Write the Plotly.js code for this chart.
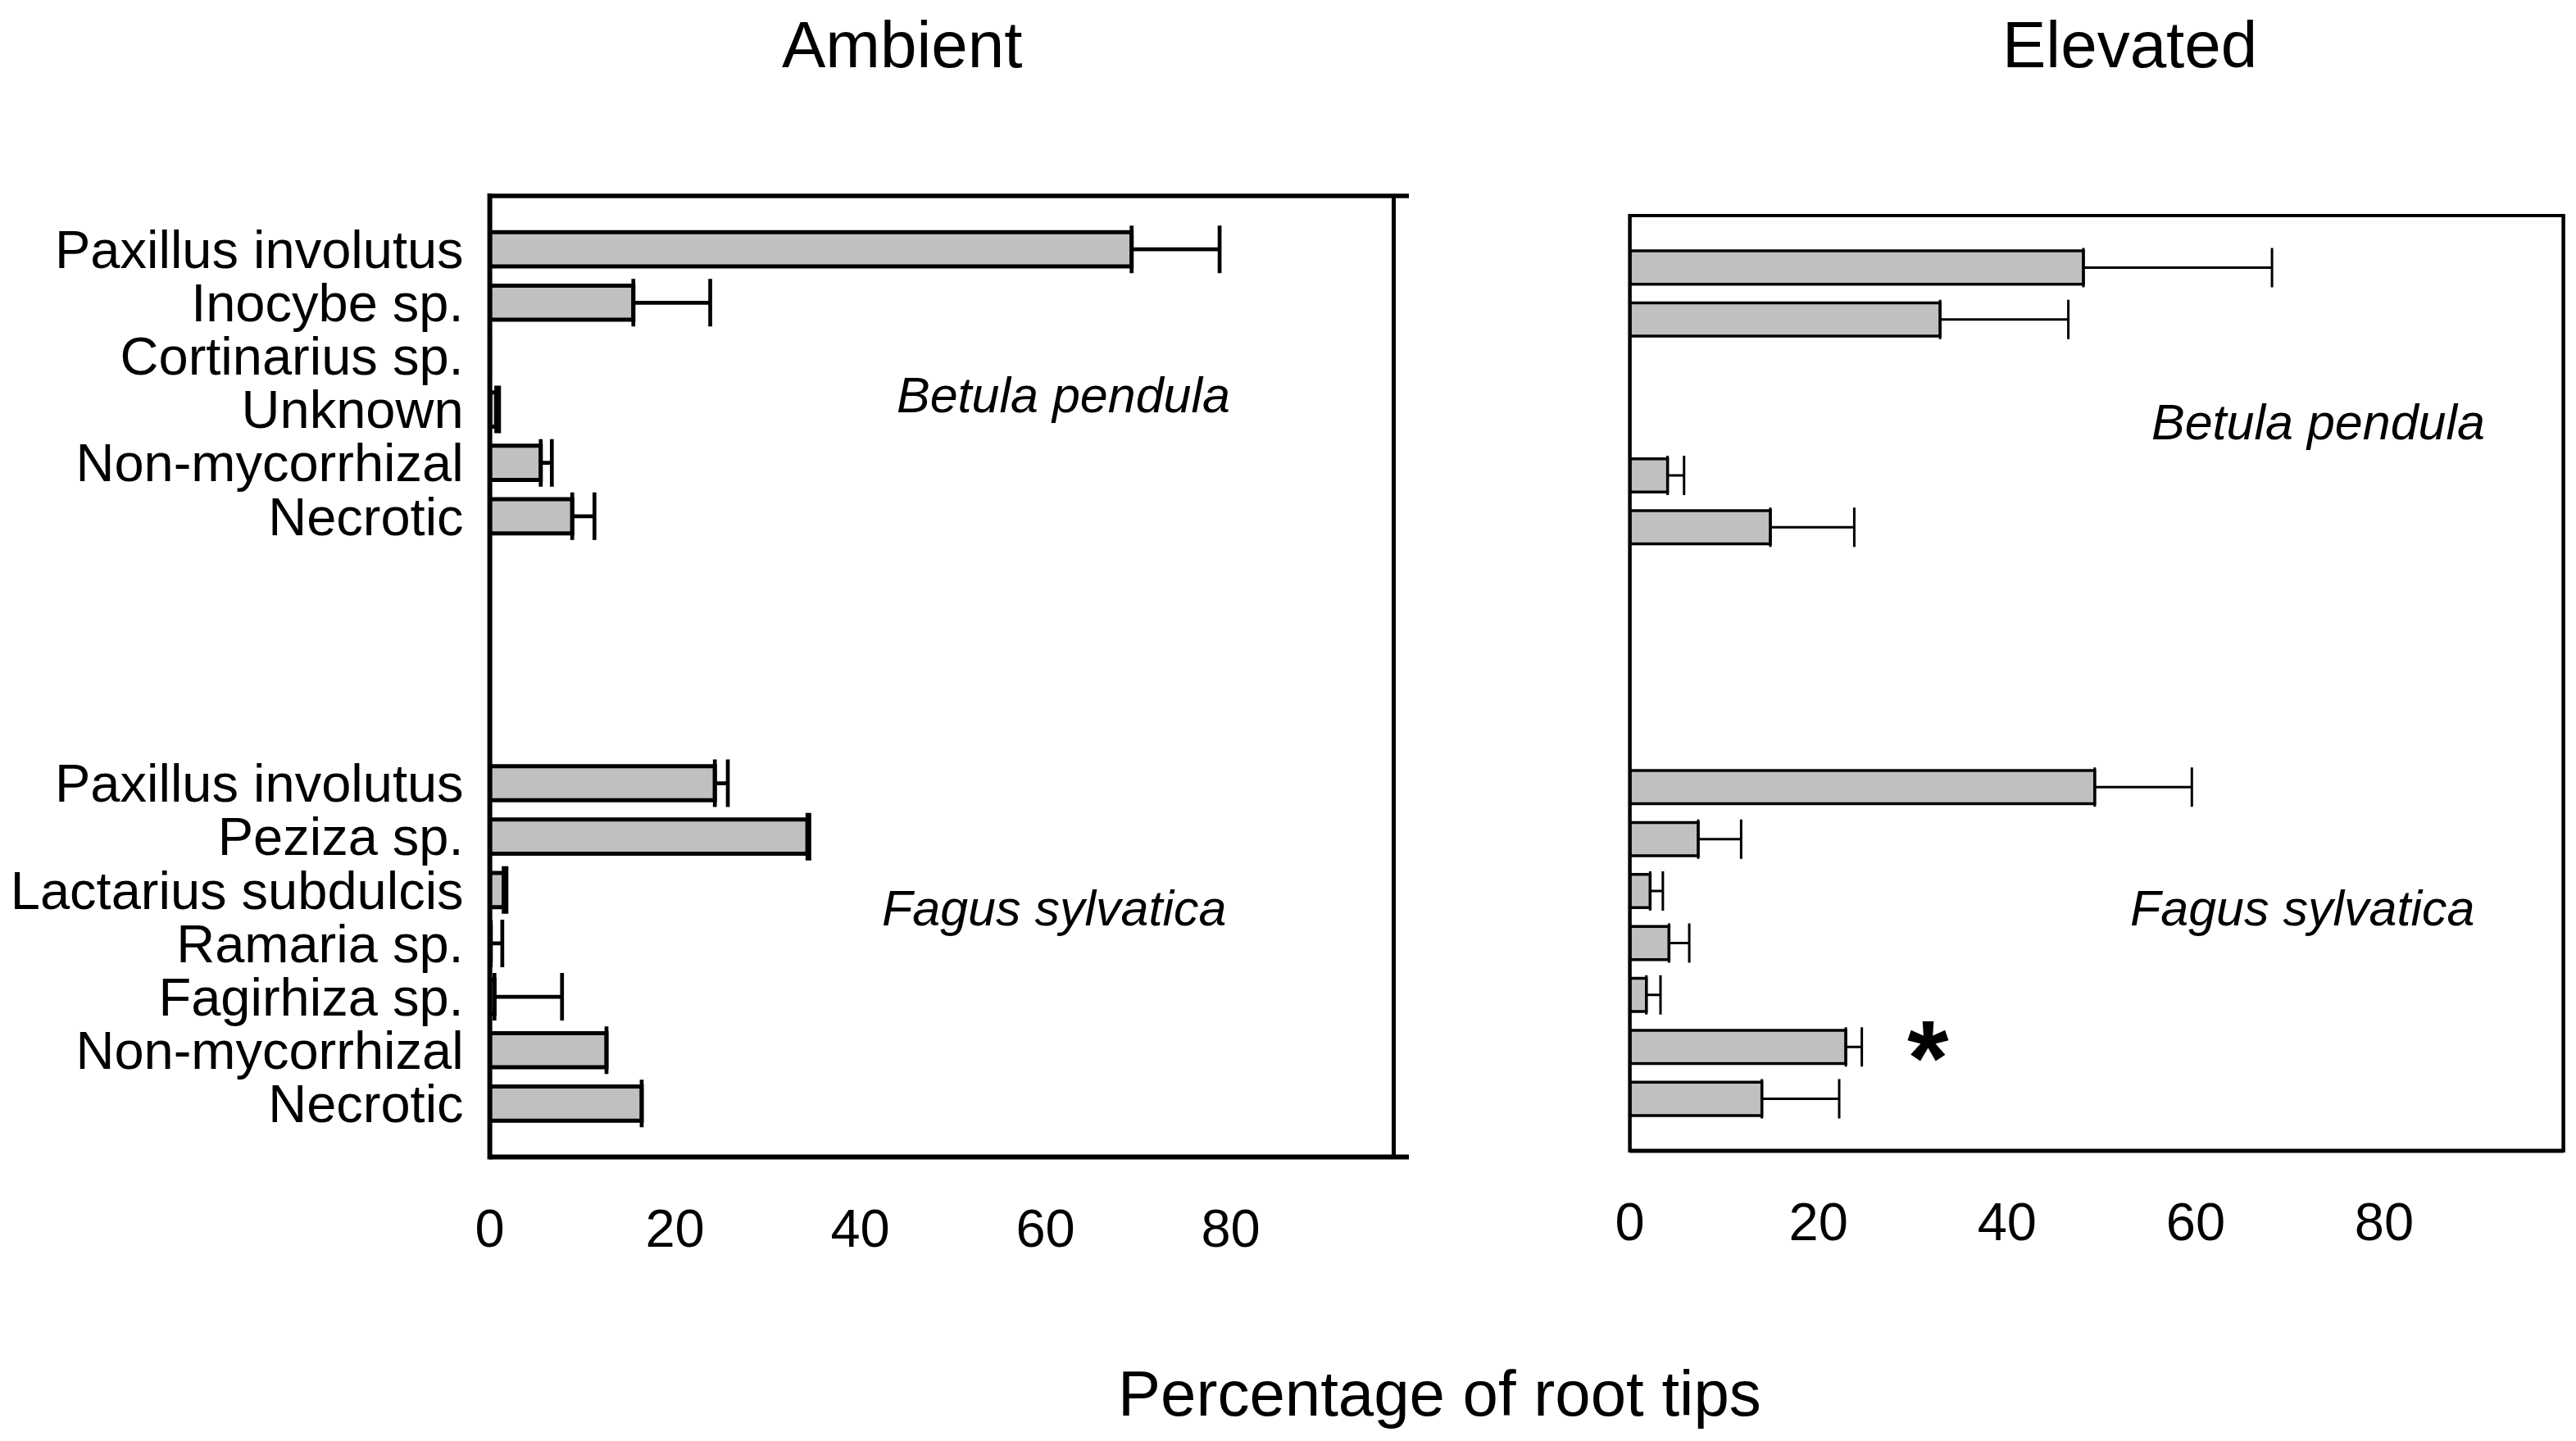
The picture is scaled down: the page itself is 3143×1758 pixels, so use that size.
<!DOCTYPE html>
<html>
<head>
<meta charset="utf-8">
<script src="https://cdn.plot.ly/plotly-3.0.1.min.js"></script>
<style>
html,body{margin:0;padding:0;background:#fff;}
#chart{width:3143px;height:1758px;}
</style>
</head>
<body>
<div id="chart"></div>
<script>
// ---------------- data ----------------
const betulaCategories = ['Paxillus involutus','Inocybe sp.','Cortinarius sp.','Unknown','Non-mycorrhizal','Necrotic'];
const fagusCategories  = ['Paxillus involutus','Peziza sp.','Lactarius subdulcis','Ramaria sp.','Fagirhiza sp.','Non-mycorrhizal','Necrotic'];

const ambientBetula     = [69.3, 15.5, 0, 0.7, 5.5, 8.9];
const ambientBetulaErr  = [9.5, 8.3, null, 0.3, 1.2, 2.4];
const ambientFagus      = [24.3, 34.3, 1.5, 0.1, 0.5, 12.6, 16.4];
const ambientFagusErr   = [1.4, 0.2, 0.3, 1.25, 7.3, null, null];

const elevatedBetula    = [48.1, 32.9, null, null, 4.0, 14.9];
const elevatedBetulaErr = [20.0, 13.6, null, null, 1.75, 8.9];
const elevatedFagus     = [49.3, 7.25, 2.15, 4.15, 1.75, 22.9, 14.0];
const elevatedFagusErr  = [10.3, 4.55, 1.35, 2.15, 1.5, 1.7, 8.2];

const xTicks = [0, 20, 40, 60, 80];
const panelTitles = ['Ambient', 'Elevated'];
const speciesLabels = ['Betula pendula', 'Fagus sylvatica'];
const xAxisTitle = 'Percentage of root tips';
const significance = {panel: 'Elevated', group: 'Fagus', category: 'Non-mycorrhizal', mark: '*'};

// ---------------- layout helpers ----------------
const W = 3143, H = 1758;
const px = x => x / W;
const py = y => 1 - y / H;
const FONT = 'Liberation Sans, Arial, Helvetica, sans-serif';
const gapSlots = 4;
const fagusStart = betulaCategories.length + gapSlots;
const betulaPos = betulaCategories.map((_, i) => i);
const fagusPos  = fagusCategories.map((_, i) => fagusStart + i);
const allPos = betulaPos.concat(fagusPos);
const allCats = betulaCategories.concat(fagusCategories);
const yRange = [fagusPos[fagusPos.length - 1] + 1, -1];

const P = {
  L: {x0: 597.6, x1: 1700.5, y0: 239, y1: 1411.5, xmax: 97.6},
  R: {x0: 1988.6, x1: 3127.6, y0: 263, y1: 1404, xmax: 99.0}
};

function barTrace(vals, errs, pos, xa, ya, lw, ew, cap) {
  return {
    type: 'bar', orientation: 'h', x: vals, y: pos, xaxis: xa, yaxis: ya,
    width: 0.64,
    marker: {color: '#c0c0c0', line: {color: '#000', width: lw}},
    error_x: {type: 'data', array: errs, visible: true, symmetric: false,
              arrayminus: errs.map(() => 0), color: '#000', thickness: ew, width: cap},
    hoverinfo: 'x+y', showlegend: false, cliponaxis: false
  };
}

const data = [
  barTrace(ambientBetula, ambientBetulaErr, betulaPos, 'x', 'y', 5, 4.7, 29),
  barTrace(ambientFagus, ambientFagusErr, fagusPos, 'x', 'y', 5, 4.7, 29),
  barTrace(elevatedBetula, elevatedBetulaErr, betulaPos, 'x2', 'y2', 3.5, 3, 24),
  barTrace(elevatedFagus, elevatedFagusErr, fagusPos, 'x2', 'y2', 3.5, 3, 24)
];

const tickFont = {family: FONT, size: 65, color: '#000'};
function xAxis(p, anchor) {
  return {
    domain: [px(p.x0), px(p.x1)], range: [0, p.xmax], anchor: anchor,
    tickvals: xTicks, ticktext: xTicks.map(String), tickfont: tickFont,
    ticks: 'outside', ticklen: 30, tickcolor: 'rgba(0,0,0,0)',
    showgrid: false, zeroline: false, showline: false, fixedrange: true
  };
}
function yAxis(p, anchor, showLabels) {
  return {
    domain: [py(p.y1), py(p.y0)], range: yRange, anchor: anchor,
    tickvals: showLabels ? allPos : [], ticktext: showLabels ? allCats : [],
    tickfont: tickFont, ticks: showLabels ? 'outside' : '', ticklen: 18,
    tickcolor: 'rgba(0,0,0,0)', showticklabels: showLabels,
    showgrid: false, zeroline: false, showline: false, fixedrange: true
  };
}

function line(x0, y0, x1, y1, w) {
  return {type: 'line', xref: 'paper', yref: 'paper', x0: px(x0), y0: py(y0), x1: px(x1), y1: py(y1),
          line: {color: '#000', width: w}, layer: 'above'};
}
const shapes = [
  // left (Ambient) frame
  line(P.L.x0, P.L.y0 - 3, P.L.x0, P.L.y1 + 3, 6),
  line(P.L.x0, P.L.y0, 1719, P.L.y0, 5.5),
  line(P.L.x1, P.L.y0, P.L.x1, P.L.y1, 5),
  line(P.L.x0, P.L.y1, 1719, P.L.y1, 6),
  // right (Elevated) frame
  line(P.R.x0, P.R.y0 - 2, P.R.x0, P.R.y1 + 2, 4.5),
  line(P.R.x0, P.R.y0, P.R.x1, P.R.y0, 4),
  line(P.R.x1, P.R.y0 - 2, P.R.x1, P.R.y1 + 2, 4.5),
  line(P.R.x0, P.R.y1, P.R.x1, P.R.y1, 5)
];

function ann(text, x, y, size, extra) {
  return Object.assign({text: text, xref: 'paper', yref: 'paper', x: px(x), y: py(y),
    xanchor: 'center', yanchor: 'middle', showarrow: false,
    font: {family: FONT, size: size, color: '#000'}}, extra || {});
}
const sigIdx = fagusCategories.indexOf(significance.category);
const sigY = fagusPos[sigIdx];
const annotations = [
  ann(panelTitles[0], 1100, 55, 80),
  ann(panelTitles[1], 2598, 55, 80),
  ann(xAxisTitle, 1756, 1700, 78),
  ann('<i>' + speciesLabels[0] + '</i>', 1297, 482, 61),
  ann('<i>' + speciesLabels[1] + '</i>', 1286, 1108, 61),
  ann('<i>' + speciesLabels[0] + '</i>', 2828, 515, 61),
  ann('<i>' + speciesLabels[1] + '</i>', 2809, 1108, 61),
  {text: '<b>' + significance.mark + '</b>', xref: 'x2', yref: 'y2',
   x: elevatedFagus[sigIdx] + elevatedFagusErr[sigIdx] + 7, y: sigY,
   xanchor: 'center', yanchor: 'middle', yshift: -14, showarrow: false,
   font: {family: FONT, size: 130, color: '#000'}}
];

const layout = {
  width: W, height: H, margin: {l: 0, r: 0, t: 0, b: 0},
  paper_bgcolor: '#fff', plot_bgcolor: 'rgba(0,0,0,0)',
  xaxis: xAxis(P.L, 'y'), yaxis: yAxis(P.L, 'x', true),
  xaxis2: xAxis(P.R, 'y2'), yaxis2: yAxis(P.R, 'x2', false),
  bargap: 0, shapes: shapes, annotations: annotations, showlegend: false,
  font: {family: FONT, color: '#000'}
};

Plotly.newPlot('chart', data, layout, {displayModeBar: false, staticPlot: true});
</script>
</body>
</html>
